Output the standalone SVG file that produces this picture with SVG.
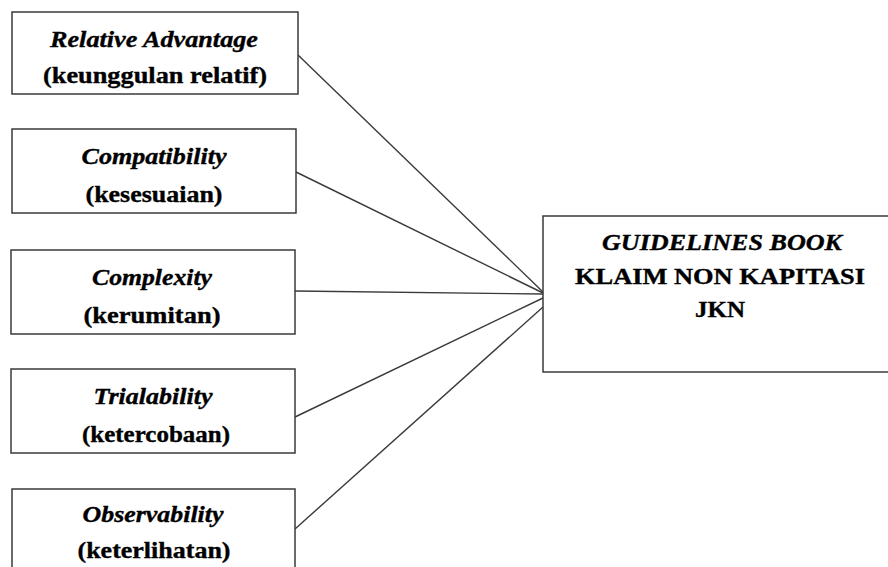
<svg xmlns="http://www.w3.org/2000/svg" width="888" height="567" viewBox="0 0 888 567">
<style>
.box{fill:#fff;stroke:#3a3a3a;stroke-width:1.5}
.con{stroke:#3a3a3a;stroke-width:1.4;fill:none}
text{font-family:'Liberation Serif','Tinos','Times New Roman','DejaVu Serif',serif;font-size:23px;font-weight:bold;fill:#000;stroke:#000;stroke-width:0.35;text-anchor:middle}
.it{font-style:italic}
</style>
<rect width="888" height="567" fill="#fff"/>
<g id="connectors">
<line class="con" x1="298" y1="55" x2="543" y2="292"/>
<line class="con" x1="296" y1="172" x2="543" y2="293"/>
<line class="con" x1="295" y1="291" x2="543" y2="294"/>
<line class="con" x1="295" y1="417" x2="543" y2="298"/>
<line class="con" x1="295" y1="529" x2="543" y2="307"/>
</g>
<g id="n1">
<rect class="box" x="12" y="12" width="286" height="82"/>
<text class="it" x="154" y="47" textLength="208" lengthAdjust="spacingAndGlyphs">Relative Advantage</text>
<text x="155" y="83" textLength="224" lengthAdjust="spacingAndGlyphs">(keunggulan relatif)</text>
</g>
<g id="n2">
<rect class="box" x="12" y="129" width="284" height="84"/>
<text class="it" x="154" y="164" textLength="145" lengthAdjust="spacingAndGlyphs">Compatibility</text>
<text x="154" y="202" textLength="137" lengthAdjust="spacingAndGlyphs">(kesesuaian)</text>
</g>
<g id="n3">
<rect class="box" x="11" y="250" width="284" height="84"/>
<text class="it" x="152" y="285" textLength="120" lengthAdjust="spacingAndGlyphs">Complexity</text>
<text x="152" y="323" textLength="137" lengthAdjust="spacingAndGlyphs">(kerumitan)</text>
</g>
<g id="n4">
<rect class="box" x="11" y="369" width="284" height="84"/>
<text class="it" x="153" y="404" textLength="119" lengthAdjust="spacingAndGlyphs">Trialability</text>
<text x="156" y="442" textLength="148" lengthAdjust="spacingAndGlyphs">(ketercobaan)</text>
</g>
<g id="n5">
<rect class="box" x="12" y="489" width="283" height="100"/>
<text class="it" x="153" y="522" textLength="141" lengthAdjust="spacingAndGlyphs">Observability</text>
<text x="154" y="558" textLength="153" lengthAdjust="spacingAndGlyphs">(keterlihatan)</text>
</g>
<g id="target">
<rect class="box" x="543" y="216" width="360" height="156"/>
<text class="it" x="722" y="250" textLength="240" lengthAdjust="spacingAndGlyphs">GUIDELINES BOOK</text>
<text x="720" y="284" textLength="290" lengthAdjust="spacingAndGlyphs">KLAIM NON KAPITASI</text>
<text x="720" y="317" textLength="50" lengthAdjust="spacingAndGlyphs">JKN</text>
</g>
</svg>
